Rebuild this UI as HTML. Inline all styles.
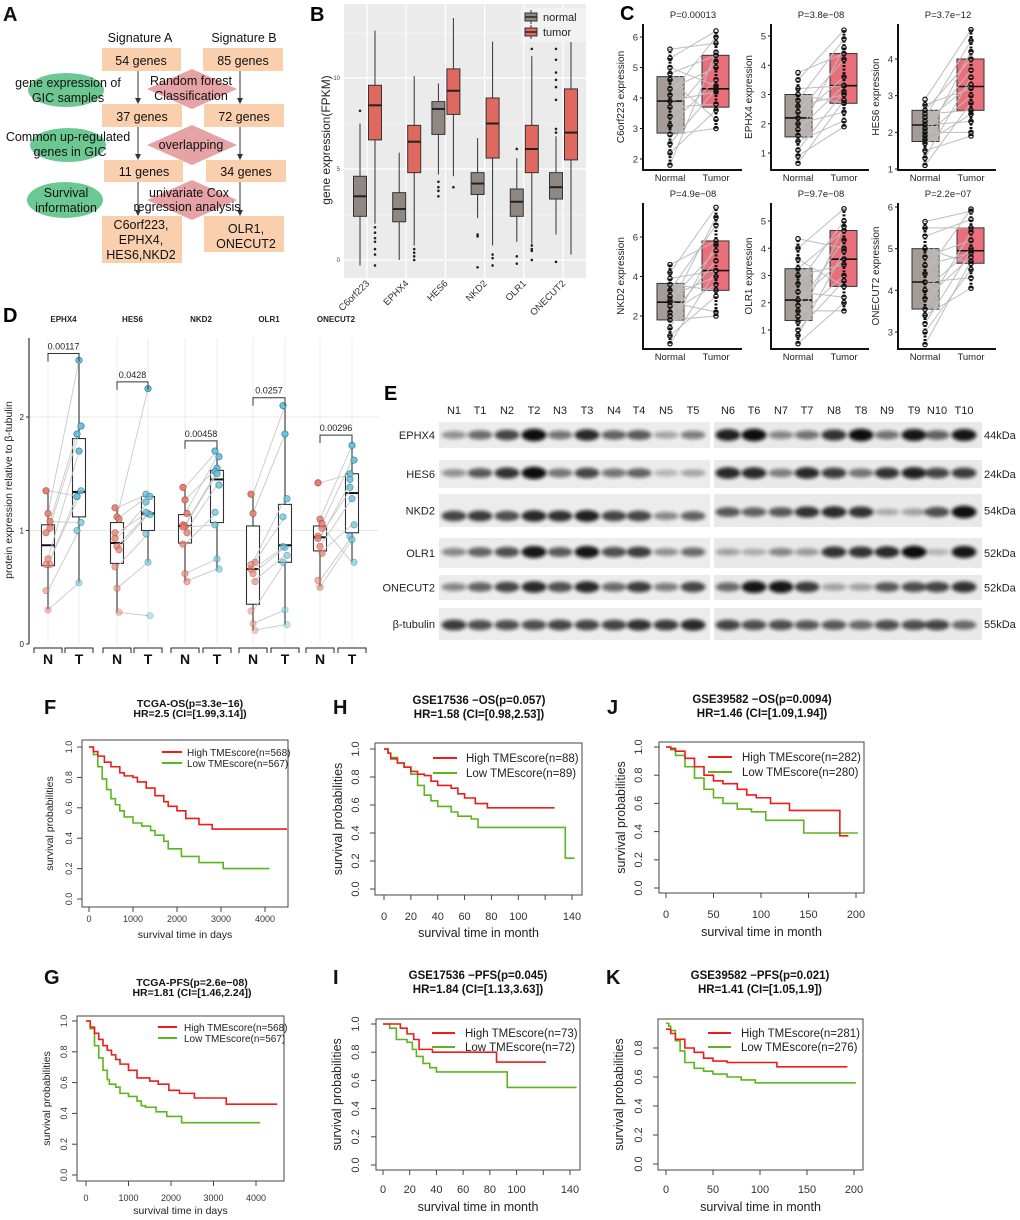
<!DOCTYPE html>
<html><head><meta charset="utf-8"><style>
html,body{margin:0;padding:0;background:#fff;}
svg{display:block;font-family:"Liberation Sans",Arial,sans-serif;}
</style></head><body>
<svg id="fig" width="1020" height="1220" viewBox="0 0 1020 1220" xmlns="http://www.w3.org/2000/svg">
<defs>
<filter id="blur" x="-50%" y="-100%" width="200%" height="300%"><feGaussianBlur stdDeviation="1.8"/></filter>
<marker id="arr" markerWidth="6" markerHeight="6" refX="5" refY="3" orient="auto"><path d="M0,0 L6,3 L0,6 Z" fill="#333"/></marker>
</defs>
<!-- Panel A -->
<g font-size="12.5" fill="#111">
<text x="3" y="21" font-size="20" font-weight="bold">A</text>
<text x="140" y="42" text-anchor="middle">Signature A</text>
<text x="244" y="42" text-anchor="middle">Signature B</text>
<ellipse cx="66" cy="90" rx="38" ry="17" fill="#6cc892"/>
<ellipse cx="68" cy="145" rx="38" ry="17" fill="#6cc892"/>
<ellipse cx="65" cy="200" rx="38" ry="18" fill="#6cc892"/>
<polygon points="147,89 192,69 237,89 192,109" fill="#e6a3a6"/>
<polygon points="147,145 192,125 237,145 192,165" fill="#e6a3a6"/>
<polygon points="147,200 192,180 237,200 192,220" fill="#e6a3a6"/>
<rect x="102" y="48" width="79" height="23" fill="#f9cfae"/>
<rect x="203" y="48" width="80" height="23" fill="#f9cfae"/>
<rect x="102" y="104" width="80" height="23" fill="#f9cfae"/>
<rect x="204" y="104" width="80" height="23" fill="#f9cfae"/>
<rect x="104" y="160" width="79" height="22" fill="#f9cfae"/>
<rect x="206" y="160" width="80" height="22" fill="#f9cfae"/>
<rect x="102" y="216" width="80" height="47" fill="#f9cfae"/>
<rect x="204" y="216" width="80" height="36" fill="#f9cfae"/>
<g stroke="#333" stroke-width="1">
<line x1="138" y1="71" x2="138" y2="103" marker-end="url(#arr)"/>
<line x1="240" y1="71" x2="240" y2="103" marker-end="url(#arr)"/>
<line x1="138" y1="127" x2="138" y2="159" marker-end="url(#arr)"/>
<line x1="240" y1="127" x2="240" y2="159" marker-end="url(#arr)"/>
<line x1="138" y1="182" x2="138" y2="215" marker-end="url(#arr)"/>
<line x1="240" y1="182" x2="240" y2="215" marker-end="url(#arr)"/>
</g>
<g text-anchor="middle">
<text x="141" y="65">54 genes</text>
<text x="243" y="65">85 genes</text>
<text x="142" y="121">37 genes</text>
<text x="244" y="121">72 genes</text>
<text x="144" y="176">11 genes</text>
<text x="246" y="176">34 genes</text>
<text x="68" y="87">gene expression of</text>
<text x="68" y="102">GIC samples</text>
<text x="68" y="141">Common up-regulated</text>
<text x="70" y="156">genes in GIC</text>
<text x="66" y="197">Survival</text>
<text x="66" y="212">information</text>
<text x="191" y="85">Random forest</text>
<text x="191" y="100">Classification</text>
<text x="191" y="149">overlapping</text>
<text x="189" y="197">univariate Cox</text>
<text x="187" y="211">regression analysis</text>
<text x="141" y="229">C6orf223,</text>
<text x="141" y="244">EPHX4,</text>
<text x="141" y="259">HES6,NKD2</text>
<text x="246" y="233">OLR1,</text>
<text x="246" y="248">ONECUT2</text>
</g>
</g>
<text x="310" y="21" font-size="20" font-weight="bold">B</text>
<text x="620" y="20" font-size="20" font-weight="bold">C</text>
<text x="3" y="322" font-size="20" font-weight="bold">D</text>
<text x="384" y="400" font-size="20" font-weight="bold">E</text>
</svg>
<script>
const NS='http://www.w3.org/2000/svg';
const svg=document.getElementById('fig');
function mk(tag,attrs,parent){const e=document.createElementNS(NS,tag);for(const k in attrs)e.setAttribute(k,attrs[k]);(parent||svg).appendChild(e);return e;}
function txt(s,attrs,parent){const e=mk('text',attrs,parent);e.textContent=s;return e;}

/* ---------- Panel B data ---------- */
const bCats=['C6orf223','EPHX4','HES6','NKD2','OLR1','ONECUT2'];
const bNormal=[[-0.3,2.4,3.5,4.6,7.5],[0,2.1,2.8,3.7,5.9],[4.7,6.9,8.3,8.7,9.7],[2.3,3.6,4.2,4.8,6.7],[1.0,2.4,3.2,3.9,5.6],[1.4,3.35,4.0,4.8,6.8]];
const bTumor=[[2.0,6.6,8.5,9.6,12.6],[0.8,4.8,6.5,7.4,10.1],[4.6,8.0,9.3,10.5,13.3],[0.8,5.6,7.5,8.9,12.0],[0.9,4.8,6.1,7.4,11.2],[0.3,5.5,7.0,9.4,13.6]];
const bNormalOut=[[8.2],[],[4.3,4.0,3.8,3.5],[1.4,1.3,-0.4],[0.2,-0.2,6.1],[7.2,7.0,8.8,9.5,9.9,10.3,11.0,11.6,12.1,-0.1]];
const bTumorOut=[[1.8,1.5,1.2,1.0,0.6,0.3,-0.3],[0.6,0.4,0.2,0],[4.0],[0.3,0.1,-0.3],[0.8,0.6,0.5,0,11.6],[]];
const bTicks=[0,5,10];

/* ---------- Panel C data ---------- */
const cGenes=['C6orf223','EPHX4','HES6','NKD2','OLR1','ONECUT2'];
const cPvals=['P=0.00013','P=3.8e\u221208','P=3.7e\u221212','P=4.9e\u221208','P=9.7e\u221208','P=2.2e\u221207'];
const cTicks=[[2,3,4,5,6],[1,2,3,4,5],[1,2,3,4],[2,4,6],[1,2,3,4,5],[3,4,5,6]];
const cNormalBox=[[2.85,3.9,4.7],[1.55,2.2,3.0],[1.75,2.2,2.6],[1.8,2.7,3.65],[1.35,2.1,3.25],[3.55,4.2,5.0]];
const cTumorBox=[[3.7,4.3,5.4],[2.7,3.3,4.4],[2.6,3.25,4.0],[3.3,4.3,5.8],[2.6,3.6,4.65],[4.65,4.95,5.5]];
const cNormalPts=[[5.6,5.3,5.0,4.8,4.6,4.3,4.1,3.9,3.7,3.4,3.1,2.8,2.5,2.2,1.8],[3.75,3.5,3.2,3.0,2.8,2.6,2.4,2.2,2.0,1.8,1.6,1.4,1.1,0.9,0.65],[2.9,2.75,2.6,2.5,2.4,2.3,2.2,2.1,2.0,1.9,1.8,1.7,1.5,1.3,1.1],[4.6,4.2,3.9,3.6,3.3,3.0,2.8,2.7,2.5,2.2,2.0,1.8,1.4,1.0,0.6],[4.35,4.0,3.6,3.25,3.0,2.7,2.4,2.1,1.9,1.7,1.5,1.3,1.0,0.8,0.5],[5.65,5.5,5.3,5.0,4.8,4.6,4.4,4.2,4.0,3.8,3.55,3.4,3.2,3.0,2.7]];
const cTumorPts=[[5.8,6.2,4.4,5.4,3.3,5.0,6.0,4.2,3.8,5.2,4.6,3.0,4.3,3.6,5.5],[4.4,5.2,3.3,2.7,4.9,3.0,4.2,3.6,2.4,3.3,4.6,2.1,3.1,1.9,2.8],[4.8,3.2,4.0,2.6,4.5,3.3,2.3,3.7,2.0,3.0,4.2,2.5,1.9,3.5,2.8],[5.8,7.5,4.3,3.3,6.6,4.0,5.3,2.2,7.0,3.6,4.8,2.0,5.6,3.0,4.3],[4.0,5.45,2.6,4.65,3.4,5.0,2.2,3.6,4.3,1.7,3.0,4.8,2.8,3.9,2.0],[5.9,5.5,5.7,4.65,5.2,4.9,5.95,4.3,5.0,4.8,5.4,4.05,4.95,4.5,4.7]];

/* ---------- Panel D data ---------- */
const dGenes=['EPHX4','HES6','NKD2','OLR1','ONECUT2'];
const dPvals=['0.00117','0.0428','0.00458','0.0257','0.00296'];
const dNBox=[[0.3,0.69,0.87,1.05,1.35],[0.28,0.71,0.89,1.07,1.2],[0.55,0.89,1.04,1.14,1.38],[0.12,0.35,0.66,1.04,1.32],[0.5,0.82,0.94,1.04,1.1]];
const dTBox=[[0.54,1.12,1.34,1.81,2.5],[0.72,1.0,1.15,1.3,1.3],[0.65,1.07,1.45,1.53,1.7],[0.17,0.72,0.87,1.23,2.1],[0.72,0.98,1.33,1.5,1.75]];
const dNPts=[[1.35,1.15,1.02,0.98,0.75,0.7,0.47,0.3,1.08,0.7],[1.2,1.12,1.1,0.93,0.86,0.83,0.68,0.49,0.28,0.98],[1.38,1.27,1.15,1.05,1.04,0.98,0.88,0.62,0.55,1.03],[1.32,1.15,0.72,0.7,0.62,0.55,0.29,0.18,0.12,0.66],[1.42,1.1,1.02,0.95,0.86,0.8,0.56,0.5,1.06,0.93]];
const dTPts=[[1.3,2.5,1.92,1.85,1.7,1.35,1.0,0.54,1.07,1.3],[1.32,2.25,1.3,1.25,1.15,1.14,0.97,0.72,0.25,1.16],[1.7,1.55,1.65,1.52,1.5,1.4,1.16,0.75,0.66,1.05],[2.1,1.85,1.28,1.12,0.85,0.78,0.72,0.3,0.17,0.86],[1.5,1.75,1.62,1.38,1.28,1.05,0.95,0.92,0.72,1.45]];
const dBracketY=[2.56,2.31,1.79,2.17,1.84];
const dTicks=[0,1,2];

/* ---------- Panel E data ---------- */
const eLanes=['N1','T1','N2','T2','N3','T3','N4','T4','N5','T5','N6','T6','N7','T7','N8','T8','N9','T9','N10','T10'];
const eProteins=['EPHX4','HES6','NKD2','OLR1','ONECUT2','\u03b2-tubulin'];
const eKda=['44kDa','24kDa','54kDa','52kDa','52kDa','55kDa'];
const eBands=[
[.3,.5,.7,1,.45,.85,.55,.6,.2,.4,.9,1,.35,.45,.8,1,.45,.95,.55,.95],
[.3,.6,.8,1,.45,.7,.45,.55,.12,.2,.85,.85,.4,.85,.75,.45,.8,.9,.7,.75],
[.7,.75,.65,.85,.8,.9,.7,.7,.35,.55,.6,.55,.6,.8,.85,.8,.15,.2,.65,1],
[.35,.55,.65,.95,.6,.95,.65,.75,.3,.5,.2,.15,.35,.25,.8,.8,.85,1,.1,.95],
[.35,.55,.7,.85,.65,.85,.5,.75,.4,.7,.5,.95,.95,.75,.2,.2,.6,.65,.7,.8],
[.75,.65,.65,.65,.7,.7,.7,.8,.75,.85,.7,.65,.65,.6,.6,.5,.65,.65,.7,.5]];

/* ---------- KM data ---------- */
const fHighT=[0,100,200,350,500,700,800,1000,1100,1300,1500,1700,1800,2000,2200,2500,2800,4500];
const fHighS=[1,0.97,0.94,0.9,0.87,0.83,0.81,0.80,0.77,0.73,0.68,0.64,0.61,0.58,0.53,0.49,0.46,0.46];
const fLowT=[0,100,200,300,400,500,600,700,800,1000,1200,1400,1500,1700,1800,2100,2500,3050,4100];
const fLowS=[1,0.95,0.87,0.79,0.72,0.66,0.62,0.58,0.54,0.50,0.48,0.45,0.42,0.38,0.33,0.28,0.24,0.20,0.20];
const gHighT=[0,100,200,300,400,500,600,700,800,1000,1200,1500,1700,1950,2200,2550,3300,4500];
const gHighS=[1,0.96,0.92,0.88,0.84,0.81,0.78,0.75,0.72,0.68,0.63,0.61,0.59,0.55,0.53,0.50,0.46,0.46];
const gLowT=[0,100,200,300,400,500,550,700,800,1000,1200,1300,1400,1650,1900,2250,4100];
const gLowS=[1,0.95,0.84,0.76,0.68,0.62,0.59,0.57,0.53,0.51,0.48,0.45,0.44,0.41,0.38,0.34,0.34];
const hHighT=[0,3,5,10,15,20,25,30,35,40,50,55,60,68,77,127];
const hHighS=[1,0.97,0.93,0.90,0.87,0.84,0.82,0.81,0.77,0.74,0.72,0.68,0.65,0.61,0.58,0.58];
const hLowT=[0,3,5,10,15,20,25,30,35,40,50,55,65,70,135,142];
const hLowS=[1,0.97,0.94,0.90,0.87,0.82,0.74,0.67,0.63,0.59,0.55,0.52,0.50,0.44,0.22,0.22];
const iHighT=[0,13,18,23,27,37,85,122];
const iHighS=[1,0.97,0.93,0.89,0.82,0.80,0.73,0.73];
const iLowT=[0,5,10,18,22,25,30,35,40,93,145];
const iLowS=[1,0.97,0.89,0.87,0.82,0.77,0.72,0.69,0.66,0.55,0.55];
const jHighT=[0,5,10,20,30,40,50,60,75,85,95,110,130,183,192];
const jHighS=[1,0.99,0.97,0.92,0.86,0.80,0.76,0.74,0.70,0.66,0.64,0.60,0.55,0.37,0.37];
const jLowT=[0,5,10,20,30,40,50,60,75,90,105,145,202];
const jLowS=[1,0.98,0.94,0.86,0.78,0.70,0.64,0.60,0.56,0.54,0.48,0.39,0.39];
const kHighT=[0,5,10,20,30,40,50,65,118,193];
const kHighS=[0.93,0.90,0.86,0.80,0.77,0.73,0.71,0.70,0.67,0.67];
const kLowT=[0,3,5,10,15,20,30,40,50,65,80,95,202];
const kLowS=[0.97,0.95,0.92,0.85,0.78,0.70,0.66,0.64,0.62,0.60,0.58,0.56,0.56];

/* ================= Panel B ================= */
(function(){
  const g=mk('g',{});
  
  
  const L=344,R=586,T=4,B=278;
  const y=v=>260-v*18.2;
  const cx=i=>367+i*39.2;
  const bg=mk('rect',{x:L,y:T,width:R-L,height:B-T,fill:'#ebebeb'},g);
  
  
  [2.5,7.5,12.5].forEach(v=>{mk('line',{x1:L,x2:R,y1:y(v),y2:y(v),stroke:'#f7f7f7','stroke-width':0.6},g);});
  bTicks.forEach(v=>{
    const gl=mk('line',{x1:L,x2:R,y1:y(v),y2:y(v),stroke:'#fff','stroke-width':1.2},g);
    
    
    const t=txt(String(v),{x:L-4,y:y(v)+2,'font-size':6,'text-anchor':'end',fill:'#444'},g);
    
    
  });
  bCats.forEach((c,i)=>{
    mk('line',{x1:cx(i),x2:cx(i),y1:T,y2:B,stroke:'#fff','stroke-width':1.2},g);
    const t=txt(c,{x:cx(i)+3,y:284,'font-size':9.5,'text-anchor':'end',fill:'#333',transform:`rotate(-45 ${cx(i)+3} 284)`},g);
    
    
    [[bNormal[i],bNormalOut[i],-7,'#8f8782'],[bTumor[i],bTumorOut[i],8,'#e0695f']].forEach(([s,outs,off,col],k)=>{
      const x=cx(i)+off;
      const bx=mk('g',{},g);
      
      
      mk('line',{x1:x,x2:x,y1:y(s[0]),y2:y(s[4]),stroke:'#333','stroke-width':1},bx);
      mk('rect',{x:x-6.5,y:y(s[3]),width:13,height:y(s[1])-y(s[3]),fill:col,stroke:'#333','stroke-width':1},bx);
      mk('line',{x1:x-6.5,x2:x+6.5,y1:y(s[2]),y2:y(s[2]),stroke:'#222','stroke-width':2},bx);
      outs.forEach(o=>{
        const p=mk('circle',{cx:x,cy:y(o),r:1.3,fill:'#222'},bx);
        
        
      });
    });
  });
  const yl=txt('gene expression(FPKM)',{x:330,y:140,'font-size':12,'text-anchor':'middle',fill:'#222',transform:'rotate(-90 330 140) translate(0 0)'},g);
  
  
  const lg=mk('g',{},g);
  
  
  mk('rect',{x:521,y:8,width:65,height:34,fill:'#f2f2f2'},lg);
  [['normal','#8f8782',17],['tumor','#e0695f',32]].forEach(([n,c,yy])=>{
    const e=mk('g',{},lg);
    
    
    mk('line',{x1:531,x2:531,y1:yy-7,y2:yy+7,stroke:'#333'},e);
    mk('rect',{x:525,y:yy-4,width:12,height:8,fill:c,stroke:'#333'},e);
    mk('line',{x1:525,x2:537,y1:yy,y2:yy,stroke:'#222','stroke-width':1.4},e);
    txt(n,{x:543,y:yy+4,'font-size':11,fill:'#222'},e);
  });
})();

/* ================= Panel C ================= */
(function(){
  const lay=[[643,742,24,170,6,37,2,159],[771,869,24,170,5,36,1,153],[898,996,24,170,4,59,1,169],
             [643,742,203,349,6,237,2,316],[771,869,203,349,5,221,1,330],[898,996,203,349,6,207,3,332]];
  cGenes.forEach((gname,i)=>{
    const [L,R,T,B,va,pa,vb,pb]=lay[i];
    const y=v=>pb+(v-vb)*(pa-pb)/(va-vb);
    const g=mk('g',{});
    
    
    const xn=L+27,xt=L+73;
    const nb=cNormalBox[i],tb=cTumorBox[i];
    const r1=mk('rect',{x:L+14,y:y(nb[2]),width:27,height:y(nb[0])-y(nb[2]),fill:'#a59c97',stroke:'#333','stroke-width':1},g);
    
    
    mk('rect',{x:L+27,y:y(nb[2]),width:14,height:y(nb[0])-y(nb[2]),fill:'#b9b2ae',stroke:'#444','stroke-dasharray':'3,2'},g);
    mk('line',{x1:L+14,x2:L+41,y1:y(nb[1]),y2:y(nb[1]),stroke:'#111','stroke-width':1.6},g);
    const r2=mk('rect',{x:L+59,y:y(tb[2]),width:27,height:y(tb[0])-y(tb[2]),fill:'#ea6f7b',stroke:'#333','stroke-width':1},g);
    
    
    mk('line',{x1:L+59,x2:L+86,y1:y(tb[1]),y2:y(tb[1]),stroke:'#111','stroke-width':1.6},g);
    cNormalPts[i].forEach((v,k)=>{
      const ln=mk('line',{x1:xn,y1:y(v),x2:xt,y2:y(cTumorPts[i][k]),stroke:'#bdbdbd','stroke-width':1},g);
      
      
    });
    cNormalPts[i].forEach((v,k)=>{
      const a=mk('circle',{cx:xn,cy:y(v),r:2.2,fill:'none',stroke:'#111','stroke-width':1.2},g);
      
      
      const b=mk('circle',{cx:xt,cy:y(cTumorPts[i][k]),r:2.2,fill:'none',stroke:'#111','stroke-width':1.2},g);
      
      
    });
    const minN=Math.min(...cNormalPts[i]),maxN=Math.max(...cNormalPts[i]);
    const minT=Math.min(...cTumorPts[i]),maxT=Math.max(...cTumorPts[i]);
    mk('line',{x1:xn,x2:xn,y1:y(minN),y2:y(maxN),stroke:'#111','stroke-width':3,'stroke-dasharray':'2,1.5'},g);
    mk('line',{x1:xt,x2:xt,y1:y(minT),y2:y(maxT),stroke:'#111','stroke-width':3,'stroke-dasharray':'2,1.5'},g);
    const ax=mk('path',{d:`M${L},${T} V${B} H${R}`,fill:'none',stroke:'#111','stroke-width':2},g);
    
    
    cTicks[i].forEach(v=>{
      mk('line',{x1:L-3,x2:L,y1:y(v),y2:y(v),stroke:'#111'},g);
      const t=txt(String(v),{x:L-5,y:y(v)+3.5,'font-size':9.5,'text-anchor':'end',fill:'#333'},g);
      
      
    });
    const yl=txt(gname+' expression',{x:L-19,y:(T+B)/2,'font-size':10,'text-anchor':'middle',fill:'#222',transform:`rotate(-90 ${L-19} ${(T+B)/2})`},g);
    
    
    const ti=txt(cPvals[i],{x:L+50,y:T-6,'font-size':9.5,'text-anchor':'middle',fill:'#222'},g);
    
    
    const n1=txt('Normal',{x:xn,y:B+11,'font-size':9.5,'text-anchor':'middle',fill:'#222'},g);
    
    
    const n2=txt('Tumor',{x:xt,y:B+11,'font-size':9.5,'text-anchor':'middle',fill:'#222'},g);
    
    
  });
})();

/* ================= Panel D ================= */
(function(){
  const g=mk('g',{});
  
  
  const y=v=>644-v*113.5;
  const nx=[48,117,185,253,320],tx=[79,148,217,285,352];
  [1,2].forEach(v=>mk('line',{x1:29,x2:378,y1:y(v),y2:y(v),stroke:'#e8e8e8','stroke-width':1},g));
  dGenes.forEach((gn,i)=>{
    [nx[i],tx[i]].forEach(x=>mk('line',{x1:x,x2:x,y1:338,y2:644,stroke:'#ececec'},g));
  });
  const ax=mk('line',{x1:29,x2:29,y1:338,y2:644,stroke:'#333','stroke-width':1.2},g);
  
  
  dTicks.forEach(v=>{
    mk('line',{x1:26,x2:29,y1:y(v),y2:y(v),stroke:'#333'},g);
    const t=txt(String(v),{x:24,y:y(v)+3,'font-size':8,'text-anchor':'end',fill:'#222'},g);
    
    
  });
  const yl=txt('protein expression relative to \u03b2-tubulin',{x:12,y:490,'font-size':10.5,'text-anchor':'middle',fill:'#222',transform:'rotate(-90 12 490)'},g);
  
  
  dGenes.forEach((gn,i)=>{
    const gg=mk('g',{},g);
    
    
    const t=txt(gn,{x:(nx[i]+tx[i])/2,y:322,'font-size':8,'font-weight':'bold','text-anchor':'middle',fill:'#222'},gg);
    
    
    [[dNBox[i],nx[i]],[dTBox[i],tx[i]]].forEach(([s,x],k)=>{
      const b=mk('g',{},gg);
      
      
      mk('line',{x1:x,x2:x,y1:y(s[0]),y2:y(s[4]),stroke:'#333','stroke-width':1.1},b);
      mk('rect',{x:x-6.5,y:y(s[3]),width:13,height:y(s[1])-y(s[3]),fill:'#fff',stroke:'#333','stroke-width':1.1},b);
      mk('line',{x1:x-6.5,x2:x+6.5,y1:y(s[2]),y2:y(s[2]),stroke:'#111','stroke-width':2},b);
    });
    dNPts[i].forEach((v,k)=>{
      const ln=mk('line',{x1:nx[i],y1:y(v),x2:tx[i],y2:y(dTPts[i][k]),stroke:'#c8c8c8','stroke-width':0.9},gg);
      
      
    });
    dNPts[i].forEach((v,k)=>{
      const a=mk('circle',{cx:nx[i]-2+(k%3)*2,cy:y(v),r:3.2,fill:'#e48070',stroke:'#b14a3c','stroke-width':0.7,opacity:0.35+0.65*Math.min(1,v/1.4)},gg);
      
      
      const tv=dTPts[i][k];
      const b=mk('circle',{cx:tx[i]-2+(k%3)*2,cy:y(tv),r:3.2,fill:'#6cc0d8',stroke:'#2c7f99','stroke-width':0.7,opacity:0.35+0.65*Math.min(1,tv/1.8)},gg);
      
      
    });
    const by=y(dBracketY[i]);
    const br=mk('path',{d:`M${nx[i]},${by+8} V${by} H${tx[i]} V${by+8}`,fill:'none',stroke:'#333','stroke-width':1},gg);
    
    
    const pv=txt(dPvals[i],{x:(nx[i]+tx[i])/2,y:by-4,'font-size':9,'text-anchor':'middle',fill:'#222'},gg);
    
    
    [['N',nx[i]],['T',tx[i]]].forEach(([lab,x])=>{
      mk('path',{d:`M${x-14},653 V648 H${x+14} V653`,fill:'none',stroke:'#222','stroke-width':1},gg);
      const t2=txt(lab,{x:x,y:664,'font-size':14,'font-weight':'bold','text-anchor':'middle',fill:'#111'},gg);
      
      
    });
  });
})();

/* ================= Panel E ================= */
(function(){
  const g=mk('g',{});
  
  
  const laneX=[454,480,507,534,560,587,614,639,666,693,728,754,781,807,834,861,887,914,937,964];
  const rows=[[422,448,435,435],[460,488,473,473],[494,527,516,512],[538,568,552,552],[575,600,587,587],[608,640,625,625]];
  eLanes.forEach((l,i)=>{
    const t=txt(l,{x:laneX[i],y:414,'font-size':11,'text-anchor':'middle',fill:'#222'},g);
    
    
  });
  eProteins.forEach((p,r)=>{
    const [t,b,cl,cr]=rows[r];
    const rg=mk('g',{},g);
    
    
    mk('rect',{x:439,y:t,width:271,height:b-t,fill:'#ececec'},rg);
    mk('rect',{x:714,y:t,width:268,height:b-t,fill:'#e9e9e9'},rg);
    eBands[r].forEach((v,i)=>{
      const cy=i<10?cl:cr;
      const bd=mk('ellipse',{cx:laneX[i],cy:cy,rx:12.5,ry:3+v*3.2,fill:'#111',opacity:0.15+0.85*v,filter:'url(#blur)'},rg);
      
      
    });
    const lt=txt(p,{x:435,y:(t+b)/2+4,'font-size':11,'text-anchor':'end',fill:'#222'},g);
    
    
    const kt=txt(eKda[r],{x:984,y:(t+b)/2+4,'font-size':11,fill:'#222'},g);
    
    
  });
})();

/* ================= KM panels ================= */
function drawKM(p){
  const g=mk('g',{});
  
  
  const [L,R,T,B]=p.box;
  const x=t=>p.x0+(t-p.tmin)*(p.x1-p.x0)/(p.tmax-p.tmin);
  const y=s=>p.y0+s*(p.y1-p.y0);
  const lt=txt(p.letter,{x:p.letterX,y:p.letterY,'font-size':20,'font-weight':'bold',fill:'#111'},g);
  
  
  const t1=txt(p.title[0],{x:p.titleX,y:p.titleY[0],'font-size':p.tfs,'font-weight':'bold','text-anchor':'middle',fill:'#111'},g);
  
  
  const t2=txt(p.title[1],{x:p.titleX,y:p.titleY[1],'font-size':p.tfs,'font-weight':'bold','text-anchor':'middle',fill:'#111'},g);
  
  
  const bx=mk('rect',{x:L,y:T,width:R-L,height:B-T,fill:'none',stroke:'#444','stroke-width':1},g);
  
  
  p.yticks.forEach(v=>{
    mk('line',{x1:L-5,x2:L,y1:y(v),y2:y(v),stroke:'#444'},g);
    const t=txt(v.toFixed(1),{x:p.ytx,y:y(v),'font-size':p.afs,'text-anchor':'middle',fill:'#333',transform:`rotate(-90 ${p.ytx} ${y(v)})`},g);
    
    
  });
  p.xticks.forEach(v=>{
    mk('line',{x1:x(v),x2:x(v),y1:B,y2:B+5,stroke:'#444'},g);
    if(p.skip.indexOf(v)<0){
      const t=txt(String(v),{x:x(v),y:p.xty,'font-size':p.afs,'text-anchor':'middle',fill:'#333'},g);
      
      
    }
  });
  const xl=txt(p.xlabel,{x:(L+R)/2,y:p.xly,'font-size':p.lfs,'text-anchor':'middle',fill:'#222'},g);
  
  
  const yc=(T+B)/2;
  const yl=txt('survival probabilities',{x:p.ylx,y:yc,'font-size':p.lfs,'text-anchor':'middle',fill:'#222',transform:`rotate(-90 ${p.ylx} ${yc})`},g);
  
  
  [[p.lowT,p.lowS,'#5cb51e','low-tmescore-curve'],[p.highT,p.highS,'#ee1b1b','high-tmescore-curve']].forEach(([ts,ss,c,n])=>{
    let d=`M${x(ts[0])},${y(ss[0])}`;
    for(let i=1;i<ts.length;i++){d+=` H${x(ts[i])} V${y(ss[i])}`;}
    const path=mk('path',{d:d,fill:'none',stroke:c,'stroke-width':1.6},g);
    
    
  });
  const lg=mk('g',{},g);
  
  
  [[p.leg[0],'#ee1b1b',p.legY[0]],[p.leg[1],'#5cb51e',p.legY[1]]].forEach(([s,c,yy])=>{
    const e=mk('g',{},lg);
    
    
    mk('line',{x1:p.legX[0],x2:p.legX[1],y1:yy,y2:yy,stroke:c,'stroke-width':2},e);
    txt(s,{x:p.legX[2],y:yy+3.8,'font-size':p.gfs,fill:'#222'},e);
  });
}
const yt6=[0,0.2,0.4,0.6,0.8,1.0];
drawKM({name:'km-tcga-os',letter:'F',letterX:44,letterY:714,title:['TCGA-OS(p=3.3e\u221216)','HR=2.5 (CI=[1.99,3.14])'],titleX:190,titleY:[707,717],tfs:10.5,
  box:[82,288,740,907],x0:89,x1:265,tmin:0,tmax:4000,y0:899,y1:747,yticks:yt6,xticks:[0,1000,2000,3000,4000],skip:[],
  ytx:72,xty:922,xly:938,ylx:53,xlabel:'survival time in days',afs:9,lfs:10.5,gfs:10,
  highT:fHighT,highS:fHighS,lowT:fLowT,lowS:fLowS,leg:['High TMEscore(n=568)','Low TMEscore(n=567)'],legY:[752,763],legX:[162,182,187]});
drawKM({name:'km-tcga-pfs',letter:'G',letterX:44,letterY:984,title:['TCGA-PFS(p=2.6e\u221208)','HR=1.81 (CI=[1.46,2.24])'],titleX:192,titleY:[986,996],tfs:10.5,
  box:[77,284,1016,1181],x0:86,x1:256,tmin:0,tmax:4000,y0:1175,y1:1021,yticks:yt6,xticks:[0,1000,2000,3000,4000],skip:[],
  ytx:67,xty:1201,xly:1214,ylx:50,xlabel:'survival time in days',afs:9,lfs:10.5,gfs:10,
  highT:gHighT,highS:gHighS,lowT:gLowT,lowS:gLowS,leg:['High TMEscore(n=568)','Low TMEscore(n=567)'],legY:[1027,1038],legX:[158,177,184]});
drawKM({name:'km-gse17536-os',letter:'H',letterX:333,letterY:714,title:['GSE17536 \u2212OS(p=0.057)','HR=1.58 (CI=[0.98,2.53])'],titleX:479,titleY:[704,718],tfs:11.5,
  box:[375,582,743,895],x0:384,x1:572,tmin:0,tmax:140,y0:889,y1:749,yticks:yt6,xticks:[0,20,40,60,80,100,120,140],skip:[120],
  ytx:359,xty:920,xly:937,ylx:342,xlabel:'survival time in month',afs:11,lfs:12.5,gfs:11.5,
  highT:hHighT,highS:hHighS,lowT:hLowT,lowS:hLowS,leg:['High TMEscore(n=88)','Low TMEscore(n=89)'],legY:[758,773],legX:[433,457,466]});
drawKM({name:'km-gse17536-pfs',letter:'I',letterX:333,letterY:984,title:['GSE17536 \u2212PFS(p=0.045)','HR=1.84 (CI=[1.13,3.63])'],titleX:478,titleY:[979,993],tfs:11.5,
  box:[376,580,1019,1170],x0:383,x1:570,tmin:0,tmax:140,y0:1165,y1:1024,yticks:yt6,xticks:[0,20,40,60,80,100,120,140],skip:[120],
  ytx:359,xty:1193,xly:1211,ylx:341,xlabel:'survival time in month',afs:11,lfs:12.5,gfs:11.5,
  highT:iHighT,highS:iHighS,lowT:iLowT,lowS:iLowS,leg:['High TMEscore(n=73)','Low TMEscore(n=72)'],legY:[1033,1047],legX:[432,455,465]});
drawKM({name:'km-gse39582-os',letter:'J',letterX:607,letterY:714,title:['GSE39582 \u2212OS(p=0.0094)','HR=1.46 (CI=[1.09,1.94])'],titleX:762,titleY:[703,717],tfs:11.5,
  box:[659,864,742,893],x0:666,x1:856,tmin:0,tmax:200,y0:888,y1:747,yticks:yt6,xticks:[0,50,100,150,200],skip:[],
  ytx:642,xty:918,xly:936,ylx:625,xlabel:'survival time in month',afs:11,lfs:12.5,gfs:11.5,
  highT:jHighT,highS:jHighS,lowT:jLowT,lowS:jLowS,leg:['High TMEscore(n=282)','Low TMEscore(n=280)'],legY:[757,772],legX:[708,732,742]});
drawKM({name:'km-gse39582-pfs',letter:'K',letterX:606,letterY:984,title:['GSE39582 \u2212PFS(p=0.021)','HR=1.41 (CI=[1.05,1.9])'],titleX:760,titleY:[979,993],tfs:11.5,
  box:[658,863,1019,1170],x0:666,x1:854,tmin:0,tmax:200,y0:1164,y1:1019,yticks:[0,0.2,0.4,0.6,0.8],xticks:[0,50,100,150,200],skip:[],
  ytx:642,xty:1193,xly:1211,ylx:623,xlabel:'survival time in month',afs:11,lfs:12.5,gfs:11.5,
  highT:kHighT,highS:kHighS,lowT:kLowT,lowS:kLowS,leg:['High TMEscore(n=281)','Low TMEscore(n=276)'],legY:[1033,1047],legX:[708,731,741]});
</script>
</body></html>
